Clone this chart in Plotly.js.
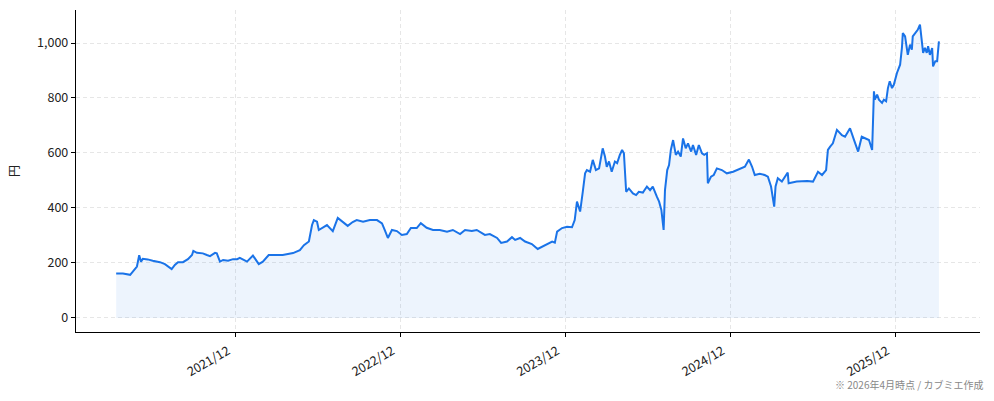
<!DOCTYPE html>
<html>
<head>
<meta charset="utf-8">
<script src="https://cdn.plot.ly/plotly-3.0.1.min.js"></script>
<style>
  html, body { margin: 0; padding: 0; background: #fff; }
  #chart { width: 994px; height: 401px; }
</style>
</head>
<body>
<div id="chart"></div>
<script>
// 株価の推移 (読み取り値)
const dates = [
  "2021-04-10", "2021-04-25", "2021-05-11", "2021-05-17", "2021-05-26", "2021-05-31",
  "2021-06-04", "2021-06-08", "2021-06-19", "2021-06-30", "2021-07-16", "2021-07-27",
  "2021-08-05", "2021-08-11", "2021-08-18", "2021-08-25", "2021-09-05", "2021-09-16",
  "2021-09-25", "2021-09-28", "2021-10-06", "2021-10-12", "2021-10-19", "2021-10-28",
  "2021-11-04", "2021-11-15", "2021-11-19", "2021-11-26", "2021-12-03", "2021-12-14",
  "2021-12-25", "2022-01-03", "2022-01-09", "2022-01-25", "2022-02-07", "2022-02-20",
  "2022-03-01", "2022-03-14", "2022-04-01", "2022-04-14", "2022-05-07", "2022-05-22",
  "2022-05-31", "2022-06-11", "2022-06-18", "2022-06-22", "2022-06-29", "2022-07-03",
  "2022-07-21", "2022-08-03", "2022-08-14", "2022-08-25", "2022-09-05", "2022-09-16",
  "2022-09-25", "2022-10-09", "2022-10-24", "2022-11-09", "2022-11-20", "2022-11-26",
  "2022-12-03", "2022-12-12", "2022-12-23", "2023-01-03", "2023-01-14", "2023-01-23",
  "2023-02-05", "2023-02-14", "2023-02-27", "2023-03-13", "2023-03-28", "2023-04-13",
  "2023-04-26", "2023-05-12", "2023-05-23", "2023-06-07", "2023-06-18", "2023-07-06",
  "2023-07-17", "2023-08-02", "2023-08-11", "2023-08-24", "2023-09-04", "2023-09-11",
  "2023-09-22", "2023-10-03", "2023-10-18", "2023-10-31", "2023-11-16", "2023-12-02",
  "2023-12-08", "2023-12-13", "2023-12-24", "2024-01-04", "2024-01-15", "2024-01-21",
  "2024-01-26", "2024-02-02", "2024-02-08", "2024-02-13", "2024-02-17", "2024-02-24",
  "2024-03-01", "2024-03-08", "2024-03-15", "2024-03-23", "2024-03-28", "2024-04-01",
  "2024-04-06", "2024-04-12", "2024-04-19", "2024-04-24", "2024-04-30", "2024-05-05",
  "2024-05-09", "2024-05-14", "2024-05-20", "2024-05-29", "2024-06-05", "2024-06-11",
  "2024-06-20", "2024-06-29", "2024-07-06", "2024-07-12", "2024-07-21", "2024-07-26",
  "2024-07-31", "2024-08-05", "2024-08-08", "2024-08-13", "2024-08-17", "2024-08-21",
  "2024-08-26", "2024-09-01", "2024-09-06", "2024-09-12", "2024-09-17", "2024-09-23",
  "2024-09-28", "2024-10-05", "2024-10-09", "2024-10-16", "2024-10-22", "2024-10-29",
  "2024-11-03", "2024-11-09", "2024-11-11", "2024-11-18", "2024-11-24", "2024-12-01",
  "2024-12-12", "2024-12-23", "2025-01-06", "2025-01-21", "2025-02-01", "2025-02-10",
  "2025-02-17", "2025-02-23", "2025-03-06", "2025-03-17", "2025-03-24", "2025-03-31",
  "2025-04-07", "2025-04-10", "2025-04-15", "2025-04-24", "2025-05-01", "2025-05-07",
  "2025-05-09", "2025-05-27", "2025-06-19", "2025-07-02", "2025-07-13", "2025-07-22",
  "2025-07-31", "2025-08-04", "2025-08-09", "2025-08-15", "2025-08-24", "2025-09-04",
  "2025-09-11", "2025-09-22", "2025-10-01", "2025-10-10", "2025-10-18", "2025-10-27",
  "2025-11-03", "2025-11-10", "2025-11-14", "2025-11-16", "2025-11-21", "2025-11-25",
  "2025-12-02", "2025-12-06", "2025-12-11", "2025-12-15", "2025-12-19", "2025-12-24",
  "2025-12-28", "2026-01-04", "2026-01-11", "2026-01-15", "2026-01-17", "2026-01-22",
  "2026-01-26", "2026-01-28", "2026-02-02", "2026-02-06", "2026-02-08", "2026-02-13",
  "2026-02-17", "2026-02-19", "2026-02-24", "2026-02-28", "2026-03-03", "2026-03-07",
  "2026-03-11", "2026-03-14", "2026-03-18", "2026-03-23", "2026-03-25", "2026-03-30",
  "2026-04-03", "2026-04-07"
];

const prices = [
  162, 162, 157, 170, 187, 228,
  205, 215, 213, 208, 203, 196,
  187, 178, 193, 203, 203, 214,
  229, 244, 237, 235, 235, 229,
  225, 237, 235, 205, 211, 208,
  214, 214, 219, 205, 227, 196,
  205, 229, 229, 229, 236, 247,
  265, 278, 338, 356, 350, 320,
  338, 316, 364, 349, 335, 349,
  356, 350, 356, 356, 344, 320,
  291, 320, 316, 302, 305, 327,
  327, 345, 328, 320, 320, 314,
  320, 305, 320, 316, 320, 302,
  305, 291, 273, 278, 294, 284,
  291, 278, 269, 251, 265, 278,
  274, 314, 327, 332, 330, 356,
  423, 387, 460, 526, 538, 532,
  575, 538, 544, 617, 587, 550,
  569, 532, 569, 563, 593, 611,
  599, 459, 471, 453, 447, 459,
  456, 478, 465, 478, 441, 423,
  393, 320, 465, 538, 556, 611,
  647, 593, 605, 587, 653, 617,
  635, 605, 629, 593, 629, 599,
  593, 599, 490, 514, 520, 544,
  538, 526, 532, 544, 550, 576,
  550, 520, 524, 520, 514, 478,
  405, 478, 508, 496, 514, 529,
  490, 496, 498, 496, 532, 520,
  538, 611, 623, 635, 684, 665,
  659, 690, 647, 605, 659, 653,
  647, 611, 824, 794, 812, 794,
  782, 794, 788, 836, 861, 836,
  848, 891, 921, 982, 1036, 1024,
  970, 957, 994, 976, 1024, 1036,
  1042, 1048, 1067, 1018, 964, 982,
  964, 988, 957, 982, 915, 934,
  934, 1006
];

const tickDates = ["2021-12-31", "2022-12-31", "2023-12-31", "2024-12-31", "2025-12-31"];
const tickLabels = ["2021/12", "2022/12", "2023/12", "2024/12", "2025/12"];

const lineColor = "#1a73e8";
const font = "Noto Sans CJK JP, Noto Sans, sans-serif";

let traces = [
  {
    x: dates,
    y: prices,
    type: "scatter",
    mode: "lines",
    fill: "tozeroy",
    fillcolor: "rgba(26,115,232,0.08)",
    line: { color: lineColor, width: 2 },
    hoverinfo: "x+y",
  },
];

let layout = {
  width: 994,
  height: 401,
  margin: { l: 76, r: 14, t: 10, b: 69 },
  paper_bgcolor: "#fff",
  plot_bgcolor: "#fff",
  showlegend: false,
  font: { family: font, size: 12, color: "#333" },
  xaxis: {
    type: "date",
    range: ["2021-01-11", "2026-07-07"],
    tickmode: "array",
    tickvals: tickDates,
    ticktext: tickLabels,
    tickangle: -30,
    ticklabelshift: -8,
    ticklabelstandoff: 2,
    ticks: "outside",
    ticklen: 4,
    tickcolor: "#000",
    showline: true,
    linecolor: "#000",
    linewidth: 1.2,
    showgrid: true,
    gridcolor: "#e6e6e6",
    griddash: "4px,3px",
    zeroline: false,
    tickfont: { family: font, size: 12.5, color: "#222" },
  },
  yaxis: {
    range: [-51, 1120],
    tickvals: [0, 200, 400, 600, 800, 1000],
    tickformat: ",d",
    ticks: "outside",
    ticklen: 4,
    tickcolor: "#000",
    showline: true,
    linecolor: "#000",
    linewidth: 1.2,
    showgrid: true,
    gridcolor: "#e6e6e6",
    griddash: "4px,3px",
    zeroline: false,
    tickfont: { family: font, size: 12.5, color: "#222" },
    title: { text: "円", font: { family: font, size: 12, color: "#222" }, standoff: 14 },
  },
  annotations: [
    {
      text: "※ 2026年4月時点 / カブミエ作成",
      xref: "paper",
      yref: "paper",
      x: 1.005,
      y: -0.135,
      xanchor: "right",
      yanchor: "top",
      showarrow: false,
      font: { family: font, size: 10, color: "#888" },
    },
  ],
};

Plotly.newPlot("chart", traces, layout, { displayModeBar: false, staticPlot: true });
</script>
</body>
</html>
